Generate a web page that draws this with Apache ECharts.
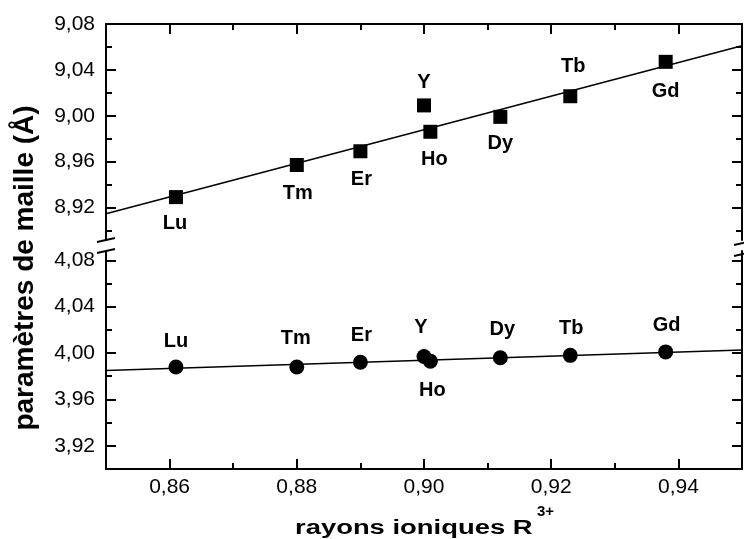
<!DOCTYPE html>
<html>
<head>
<meta charset="utf-8">
<script src="https://cdn.jsdelivr.net/npm/echarts@6/dist/echarts.min.js"></script>
<style>
  html, body { margin: 0; padding: 0; background: #fff; }
  #main { width: 744px; height: 539px; }
</style>
</head>
<body>
<div id="main"></div>
<script>
// data
var elements = ['Lu', 'Tm', 'Er', 'Y', 'Ho', 'Dy', 'Tb', 'Gd'];
var radii = [0.861, 0.880, 0.890, 0.900, 0.901, 0.912, 0.923, 0.938];
var paramUpper = [8.929, 8.957, 8.969, 9.009, 8.986, 8.999, 9.017, 9.047];
var paramLower = [3.988, 3.988, 3.992, 3.997, 3.993, 3.996, 3.998, 4.001];
var fitX = [0.85, 0.95];
var fitUpper = [8.9145, 9.061];
var fitLower = [3.985, 4.0026];

var xTicks = [0.86, 0.88, 0.90, 0.92, 0.94];
var xMinor = [0.87, 0.89, 0.91, 0.93];
var yTicksUpper = [8.92, 8.96, 9.00, 9.04, 9.08];
var yMinorUpper = [8.90, 8.94, 8.98, 9.02, 9.06];
var yTicksLower = [3.92, 3.96, 4.00, 4.04, 4.08];
var yMinorLower = [3.90, 3.94, 3.98, 4.02, 4.06];

// label placement (pixels, relative to the marker)
var labelOffsetUpper = {
  Lu: [-1, 26], Tm: [1, 28], Er: [1, 28], Y: [0, -23],
  Ho: [4, 28], Dy: [0, 27], Tb: [3, -30], Gd: [0, 30]
};
var labelOffsetLower = {
  Lu: [0, -25], Tm: [-1, -28], Er: [1, -27], Y: [-3, -29],
  Ho: [2, 29], Dy: [2, -28], Tb: [1, -27], Gd: [1, -26]
};

var FONT = '"Liberation Sans", Arial, sans-serif';

var chartDom = document.getElementById('main');
var myChart = echarts.init(chartDom);
var option;

function fmt(v) {
  return v.toFixed(2).replace('.', ',');
}

// one axis per tick set: major ticks (with labels) and minor ticks are separate axes
function axis(grid, pos, min, max, ticks, len, labels, line) {
  return {
    type: 'value',
    gridIndex: grid,
    position: pos,
    min: min,
    max: max,
    axisLine: { show: line, onZero: false, lineStyle: { color: '#000', width: 2 } },
    axisTick: { show: true, inside: true, length: len, customValues: ticks, lineStyle: { color: '#000', width: 2 } },
    axisLabel: {
      show: labels, customValues: ticks, formatter: fmt,
      color: '#000', fontSize: 21, fontFamily: FONT,
      margin: (pos === 'left' ? 11 : 8)
    },
    splitLine: { show: false }
  };
}

var upperMin = 8.8916, upperMax = 9.08;
var lowerMin = 3.90, lowerMax = 4.088;

function pts(ys, offsets) {
  return elements.map(function (name, i) {
    return { name: name, value: [radii[i], ys[i]], label: { offset: offsets[name] } };
  });
}

var labelStyle = {
  show: true, position: 'inside', formatter: '{b}',
  color: '#000', fontSize: 20, fontWeight: 'bold', fontFamily: FONT
};

option = {
  animation: false,
  grid: [
    { left: 106, right: 2, top: 24, height: 216 },
    { left: 106, right: 2, top: 251, height: 218 }
  ],
  xAxis: [
    axis(0, 'top', 0.85, 0.95, xTicks, 10, false, true),
    axis(0, 'top', 0.85, 0.95, xMinor, 6, false, false),
    axis(1, 'bottom', 0.85, 0.95, xTicks, 10, true, true),
    axis(1, 'bottom', 0.85, 0.95, xMinor, 6, false, false)
  ],
  yAxis: [
    axis(0, 'left', upperMin, upperMax, yTicksUpper, 10, true, true),
    axis(0, 'left', upperMin, upperMax, yMinorUpper, 6, false, false),
    axis(0, 'right', upperMin, upperMax, yTicksUpper, 10, false, true),
    axis(0, 'right', upperMin, upperMax, yMinorUpper, 6, false, false),
    axis(1, 'left', lowerMin, lowerMax, yTicksLower, 10, true, true),
    axis(1, 'left', lowerMin, lowerMax, yMinorLower, 6, false, false),
    axis(1, 'right', lowerMin, lowerMax, yTicksLower, 10, false, true),
    axis(1, 'right', lowerMin, lowerMax, yMinorLower, 6, false, false)
  ],
  series: [
    {
      type: 'line', xAxisIndex: 0, yAxisIndex: 0, symbol: 'none', silent: true,
      lineStyle: { color: '#000', width: 1.5 },
      data: fitX.map(function (x, i) { return [x, fitUpper[i]]; })
    },
    {
      type: 'scatter', xAxisIndex: 0, yAxisIndex: 0, symbol: 'rect', symbolSize: 14,
      itemStyle: { color: '#000', opacity: 1 }, label: labelStyle,
      data: pts(paramUpper, labelOffsetUpper)
    },
    {
      type: 'line', xAxisIndex: 2, yAxisIndex: 4, symbol: 'none', silent: true,
      lineStyle: { color: '#000', width: 1.5 },
      data: fitX.map(function (x, i) { return [x, fitLower[i]]; })
    },
    {
      type: 'scatter', xAxisIndex: 2, yAxisIndex: 4, symbol: 'circle', symbolSize: 15,
      itemStyle: { color: '#000', opacity: 1 }, label: labelStyle,
      data: pts(paramLower, labelOffsetLower)
    }
  ],
  graphic: [
    {
      type: 'text', x: 25, y: 268, rotation: Math.PI / 2,
      style: {
        text: 'paramètres de maille (Å)', fill: '#000',
        fontSize: 28, fontWeight: 'bold', fontFamily: FONT,
        align: 'center', verticalAlign: 'middle'
      }
    },
    {
      type: 'text', x: 295, y: 528, scaleX: 1.37,
      style: {
        text: 'rayons ioniques R', fill: '#000',
        fontSize: 20, fontWeight: 'bold', fontFamily: FONT,
        align: 'left', verticalAlign: 'middle'
      }
    },
    {
      type: 'text', x: 537, y: 512,
      style: {
        text: '3+', fill: '#000',
        fontSize: 15, fontWeight: 'bold', fontFamily: FONT,
        align: 'left', verticalAlign: 'middle'
      }
    },
    // axis break marks
    { type: 'line', shape: { x1: 97, y1: 242, x2: 115, y2: 238 }, style: { stroke: '#000', lineWidth: 2 } },
    { type: 'line', shape: { x1: 97, y1: 253, x2: 115, y2: 249 }, style: { stroke: '#000', lineWidth: 2 } },
    { type: 'line', shape: { x1: 734, y1: 245, x2: 752, y2: 241 }, style: { stroke: '#000', lineWidth: 2 } },
    { type: 'line', shape: { x1: 734, y1: 256, x2: 752, y2: 252 }, style: { stroke: '#000', lineWidth: 2 } }
  ]
};

option && myChart.setOption(option);
</script>
</body>
</html>
